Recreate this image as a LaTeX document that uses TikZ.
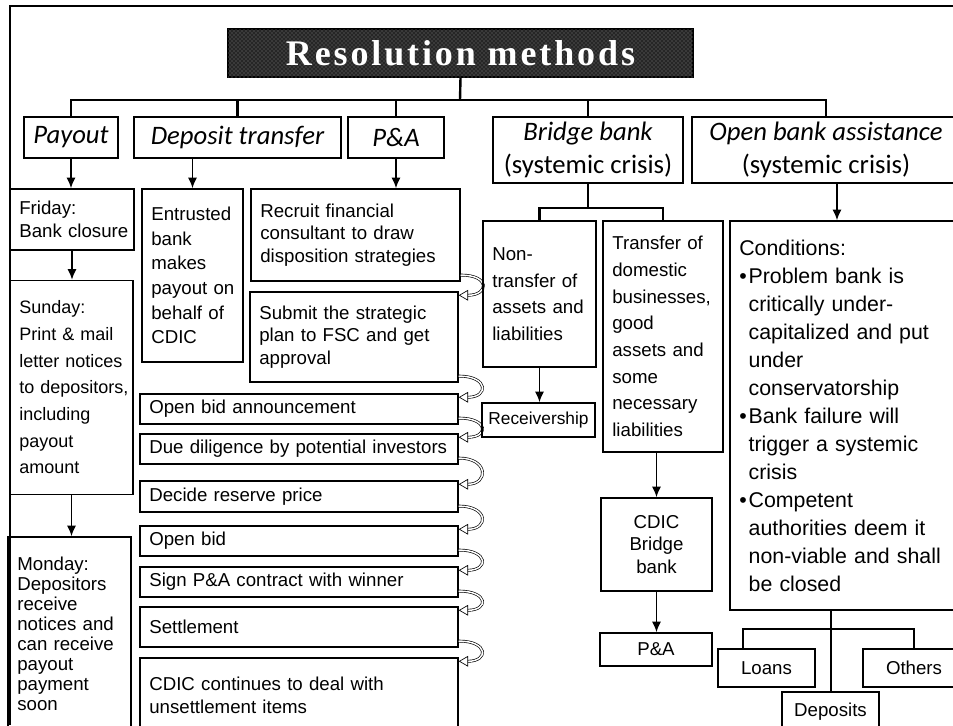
\documentclass[tikz,border=0pt]{standalone}
\usepackage{fontspec}
\setmainfont{Liberation Sans}
\newfontfamily\hdfont{Carlito}
\newfontfamily\ttlfont[LetterSpace=8]{Liberation Serif}
\usetikzlibrary{positioning,arrows.meta,patterns}

\begin{document}
\begin{tikzpicture}[x=0.75pt, y=-0.75pt,
    sz/.style 2 args={minimum width=#1*0.75pt, minimum height=#2*0.75pt},
    bx/.style 2 args={sz={#1}{#2}, text width=#1*0.75pt-6pt},
    box/.style={draw, line width=1.1pt, inner xsep=3pt, inner ysep=1pt,
      align=left, font=\fontsize{14}{17}\selectfont,
      execute at begin node={\leftskip=4pt\hyphenpenalty=10000}},
    cbox/.style={draw, line width=1.1pt, align=center, inner xsep=1pt,
      font=\fontsize{14}{17}\selectfont},
    hbox/.style={draw, line width=1.1pt, align=center, inner sep=1pt,
      font=\hdfont\fontsize{20}{25}\selectfont},
    bus/.style={line width=1.8pt},
    arr/.style={line width=1.4pt, -{Latex[length=8pt,width=7pt]}},
    turn/.style={double, double distance=1.1pt, line width=0.5pt,
      -{Triangle[open,length=7pt,width=8pt]}}]
  \useasboundingbox (0,0) rectangle (953,725);
  \draw[line width=1.5pt] (10,725) -- (10,6) -- (953,6);

  % title and the five methods
  \node[draw, line width=1pt, fill=black!85,
    postaction={pattern=crosshatch dots, pattern color=black!50},
    text=white, sz={465}{48}, font=\ttlfont\bfseries\fontsize{27}{27}\selectfont]
    (title) at (460.5,53) {Resolution methods};
  \node[hbox, sz={94}{41}] (payout) at (71,137.5) {\itshape Payout};
  \node[hbox, sz={207}{41}] (deposit) at (237.5,137.5) {\itshape Deposit transfer};
  \node[hbox, sz={96}{41}] (pa) at (396,137.5) {\itshape P\&A};
  \node[hbox, sz={190}{66}] (bridge) at (588,150) {\itshape Bridge bank\\(systemic crisis)};
  \node[hbox, sz={268}{66}] (openbank) at (826,150) {\itshape Open bank assistance\\(systemic crisis)};

  \coordinate (bus) at (460,100);
  \draw[bus] (title.south) -- (bus);
  \draw[bus] (payout.north) |- (bus) -| (openbank.north);
  \foreach \n in {deposit,pa,bridge}
    \draw[bus] (\n.north) -- (\n.north |- bus);

  % payout
  \node[box, bx={124}{61}] (friday) at (72,219.5) {Friday:\\Bank closure};
  \node[box, bx={123}{214}, font=\fontsize{13.5}{20}\selectfont] (sunday) at (71.5,387.5)
    {Sunday:\\Print \& mail\\letter notices\\to depositors,\\including\\payout\\amount};
  \node[box, bx={123}{194}, font=\fontsize{14}{15}\selectfont] (monday) at (69.5,634)
    {Monday:\\Depositors\\receive\\notices and\\can receive\\payout\\payment\\soon};
  \draw[arr] (payout.south) -- (payout.south |- friday.north);
  \draw[arr] (friday.south) -- (friday.south |- sunday.north);
  \draw[arr] (sunday.south) -- (sunday.south |- monday.north);

  % deposit transfer
  \node[box, bx={101}{173}, font=\fontsize{14}{18.5}\selectfont] (entrusted) at (192.5,275.5)
    {Entrusted\\bank\\makes\\payout on\\behalf of\\CDIC};
  \draw[arr] (entrusted.north |- deposit.south) -- (entrusted.north);

  % P&A steps
  \node[box, bx={209}{92}] (recruit) at (355.5,235)
    {Recruit financial\\consultant to draw\\disposition strategies};
  \node[box, bx={208}{90}] (submit) at (354,337)
    {Submit the strategic\\plan to FSC and get\\approval};
  \node[box, bx={318}{30}] (announce) at (299,409) {Open bid announcement};
  \node[box, bx={318}{30}] (diligence) at (299,449) {Due diligence by potential investors};
  \node[box, bx={318}{31}] (reserve) at (299,496.5) {Decide reserve price};
  \node[box, bx={318}{30}] (openbid) at (299,541) {Open bid};
  \node[box, bx={318}{30}] (sign) at (299,582) {Sign P\&A contract with winner};
  \node[box, bx={318}{40}] (settle) at (299,627) {Settlement};
  \node[box, bx={318}{74}] (cdic) at (299,695)
    {CDIC continues to deal with\\unsettlement items};
  \draw[arr] (pa.south) -- (pa.south |- recruit.north);
  \foreach \a/\b in {recruit/submit, submit/announce, announce/diligence,
      diligence/reserve, reserve/openbid, openbid/sign, sign/settle, settle/cdic}
    \draw[turn] ([yshift=5pt]\a.south east) .. controls +(30,0) and +(30,0)
      .. ([yshift=-3pt]\b.north east);

  % bridge bank
  \node[box, bx={113}{146}, font=\fontsize{14}{20}\selectfont] (nontransfer) at (539.5,294)
    {Non-\\transfer of\\assets and\\liabilities};
  \node[cbox, sz={113}{34}, font=\fontsize{13}{15}\selectfont] (receivership) at (538.5,420)
    {Receivership};
  \node[box, bx={120}{231}, font=\fontsize{14}{20}\selectfont] (transfer) at (663,336.5)
    {Transfer of\\domestic\\businesses,\\good\\assets and\\some\\necessary\\liabilities};
  \node[cbox, sz={111}{93}] (bridgebank) at (656.5,544.5) {CDIC\\Bridge\\bank};
  \node[cbox, sz={112}{33}] (bpa) at (656,649.5) {P\&A};
  \draw[bus] (bridge.south) -- ++(0,24) coordinate (bfork);
  \draw[bus] (nontransfer.north) |- (bfork) -| (transfer.north);
  \draw[arr] (nontransfer.south) -- (nontransfer.south |- receivership.north);
  \draw[arr] (bridgebank.north |- transfer.south) -- (bridgebank.north);
  \draw[arr] (bridgebank.south) -- (bridgebank.south |- bpa.north);

  % open bank assistance
  \node[box, bx={230}{389}, font=\fontsize{16}{21}\selectfont] (conditions) at (845,415.5)
    {Conditions:\\
     \makebox[7pt][l]{•}Problem bank is\\
     \hspace*{7pt}critically under-\\
     \hspace*{7pt}capitalized and put\\
     \hspace*{7pt}under\\
     \hspace*{7pt}conservatorship\\
     \makebox[7pt][l]{•}Bank failure will\\
     \hspace*{7pt}trigger a systemic\\
     \hspace*{7pt}crisis\\
     \makebox[7pt][l]{•}Competent\\
     \hspace*{7pt}authorities deem it\\
     \hspace*{7pt}non-viable and shall\\
     \hspace*{7pt}be closed};
  \node[cbox, sz={97}{38}] (loans) at (766.5,668) {Loans};
  \node[cbox, sz={102}{38}] (others) at (914,668) {Others};
  \node[cbox, sz={97}{40}] (deposits) at (830.5,712) {Deposits};
  \draw[arr] ([xshift=-6pt]conditions.north |- openbank.south) -- ([xshift=-6pt]conditions.north);
  \coordinate (cfork) at (831,629);
  \draw[bus] (conditions.south -| cfork) -- (deposits.north -| cfork);
  \draw[bus] ([xshift=-17.6pt]loans.north) |- (cfork) -| (others.north);
\end{tikzpicture}
\end{document}
